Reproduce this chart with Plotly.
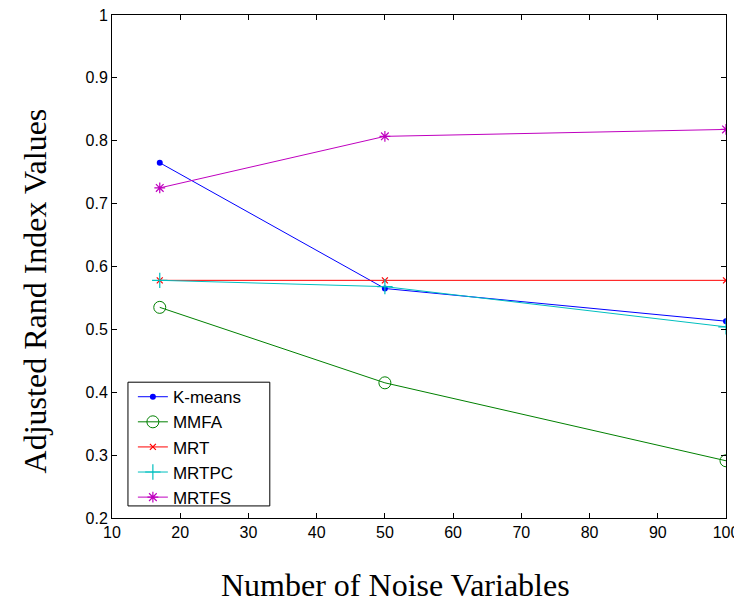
import plotly.graph_objects as go

noise_vars = [17, 50, 100]
kmeans = [0.765, 0.565, 0.513]
mmfa = [0.535, 0.415, 0.291]
mrt = [0.578, 0.578, 0.578]
mrtpc = [0.578, 0.568, 0.504]
mrtfs = [0.725, 0.807, 0.818]

series = [
    ("K-means", kmeans, "rgb(0,0,255)", dict(symbol="circle", size=6)),
    ("MMFA", mmfa, "rgb(0,128,0)", dict(symbol="circle-open", size=12, line=dict(width=1))),
    ("MRT", mrt, "rgb(255,0,0)", dict(symbol="x-thin-open", size=6, line=dict(width=1.2))),
    ("MRTPC", mrtpc, "rgb(0,191,191)", dict(symbol="cross-thin-open", size=11, line=dict(width=1.2))),
    ("MRTFS", mrtfs, "rgb(191,0,191)", dict(symbol="asterisk-open", size=9, line=dict(width=1.2))),
]

fig = go.Figure()
for name, vals, color, marker in series:
    m = dict(marker)
    m["color"] = color
    if "line" in m:
        m["line"] = dict(m["line"], color=color)
    fig.add_trace(go.Scatter(x=noise_vars, y=vals, name=name, mode="lines+markers",
                             line=dict(color=color, width=1), marker=m))

axis_common = dict(showline=True, linecolor="black", linewidth=1, mirror="ticks",
                   ticks="inside", ticklen=5, tickcolor="black", showgrid=False,
                   zeroline=False, automargin=False, ticklabeloverflow="allow",
                   tickfont=dict(family="Liberation Sans, Arial", size=16, color="black"))

title_font = dict(family="Liberation Serif, Times New Roman", size=32, color="black")

fig.update_layout(
    width=734, height=595,
    margin=dict(l=104, r=16, t=7, b=85),
    plot_bgcolor="white", paper_bgcolor="white",
    xaxis=dict(range=[10, 100], tickvals=[10, 20, 30, 40, 50, 60, 70, 80, 90, 100], **axis_common),
    yaxis=dict(range=[0.2, 1], tickvals=[0.2, 0.3, 0.4, 0.5, 0.6, 0.7, 0.8, 0.9, 1],
               ticktext=["0.2", "0.3", "0.4", "0.5", "0.6", "0.7", "0.8", "0.9", "1"],
               **axis_common),
    legend=dict(x=0.034, y=0.276, xanchor="left", yanchor="top", borderwidth=0,
                bgcolor="rgba(0,0,0,0)", tracegroupgap=0,
                font=dict(family="Liberation Sans, Arial", size=17, color="black")),
    showlegend=True,
    shapes=[
        dict(type="rect", xref="paper", yref="paper", x0=0.026, x1=0.257, y0=0.024, y1=0.270,
             line=dict(color="black", width=1), fillcolor="white", layer="above"),
    ],
    annotations=[
        dict(text="Number of Noise Variables", xref="paper", yref="paper", x=0.4625, y=-0.133,
             xanchor="center", yanchor="middle", showarrow=False, font=title_font),
        dict(text="Adjusted Rand Index Values", xref="paper", yref="paper", x=-0.125, y=0.451,
             xanchor="center", yanchor="middle", showarrow=False, textangle=-90, font=title_font),
    ],
)

fig.write_html("out.html")
